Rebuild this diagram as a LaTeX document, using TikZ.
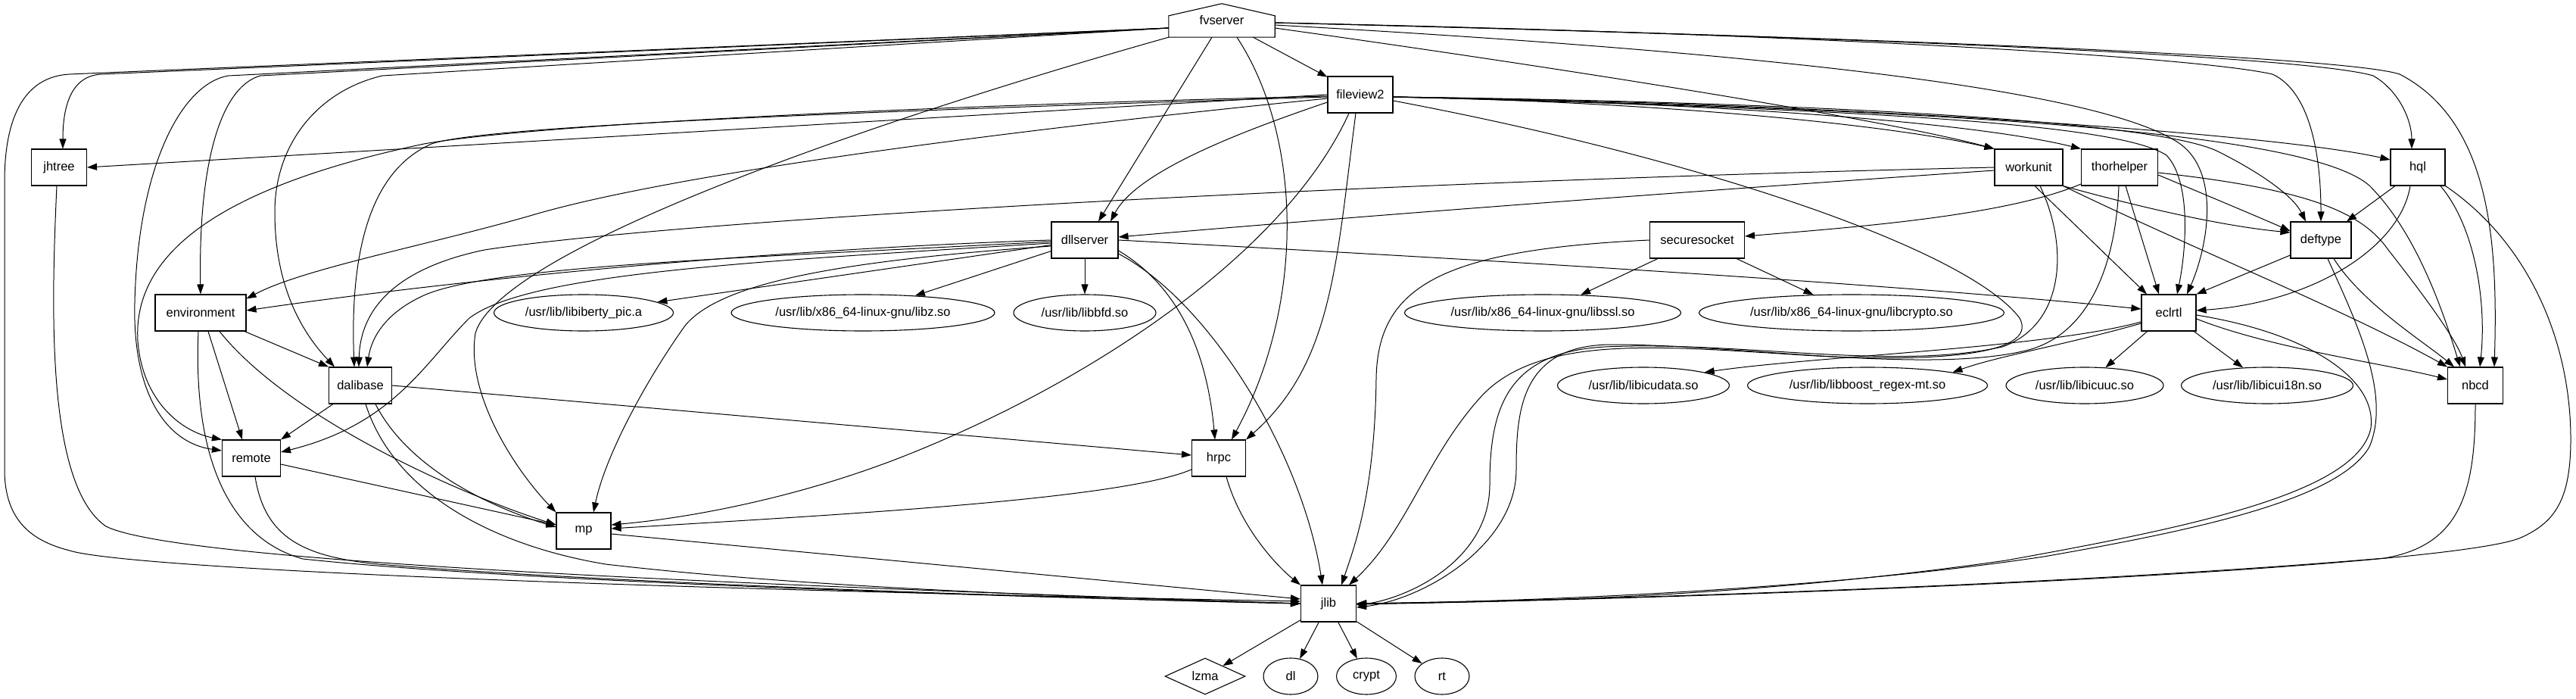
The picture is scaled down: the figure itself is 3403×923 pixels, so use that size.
\documentclass[tikz,border=0pt]{standalone}
\usepackage{fontspec}
\setmainfont{Liberation Sans}
\usetikzlibrary{arrows.meta,shapes.geometric}
\begin{document}
\begin{tikzpicture}[x=1pt,y=-1pt,
  every node/.style={font=\fontsize{16.5}{19}\selectfont, inner sep=0pt},
  bx/.style={draw, line width=1.1pt, rectangle, minimum height=48pt},
  el/.style={draw, line width=1.1pt, ellipse, minimum height=48pt},
  arr/.style={line width=1pt, -{Triangle[length=13pt,width=9pt]}},
]
\useasboundingbox (0,0) rectangle (3403,923);

% nodes
\node[minimum width=140pt, minimum height=44pt] (fvserver) at (1614,27) {fvserver};
\draw[line width=1.1pt] (fvserver.south west) -- ([yshift=-16pt]fvserver.north west) -- (fvserver.north) -- ([yshift=-16pt]fvserver.north east) -- (fvserver.south east) -- cycle;
\node[bx, minimum width=86pt] (fileview2) at (1797,125) {fileview2};
\node[bx, minimum width=73pt] (jhtree) at (78,221) {jhtree};
\node[bx, minimum width=90pt] (workunit) at (2680,221) {workunit};
\node[bx, minimum width=101pt] (thorhelper) at (2800,221) {thorhelper};
\node[bx, minimum width=72pt] (hql) at (3194,221) {hql};
\node[bx, minimum width=88pt] (dllserver) at (1433,317) {dllserver};
\node[bx, minimum width=125pt] (securesocket) at (2242,317) {securesocket};
\node[bx, minimum width=80pt] (deftype) at (3066,317) {deftype};
\node[bx, minimum width=120pt] (environment) at (265,413) {environment};
\node[el, minimum width=237pt] (libiberty) at (771,413) {/usr/lib/libiberty\_pic.a};
\node[el, minimum width=348pt] (libz) at (1140,413) {/usr/lib/x86\_64-linux-gnu/libz.so};
\node[el, minimum width=188pt] (libbfd) at (1433,413) {/usr/lib/libbfd.so};
\node[el, minimum width=365pt] (libssl) at (2038,413) {/usr/lib/x86\_64-linux-gnu/libssl.so};
\node[el, minimum width=403pt] (libcrypto) at (2446,413) {/usr/lib/x86\_64-linux-gnu/libcrypto.so};
\node[bx, minimum width=72pt] (eclrtl) at (2865,413) {eclrtl};
\node[bx, minimum width=83pt] (dalibase) at (476,509) {dalibase};
\node[el, minimum width=227pt] (libicudata) at (2171,509) {/usr/lib/libicudata.so};
\node[el, minimum width=317pt] (libboost) at (2467,509) {/usr/lib/libboost\_regex-mt.so};
\node[el, minimum width=208pt] (libicuuc) at (2754,509) {/usr/lib/libicuuc.so};
\node[el, minimum width=227pt] (libicui18n) at (2995,509) {/usr/lib/libicui18n.so};
\node[bx, minimum width=73pt] (nbcd) at (3270,509) {nbcd};
\node[bx, minimum width=77pt] (remote) at (332,605) {remote};
\node[bx, minimum width=71pt] (hrpc) at (1610,605) {hrpc};
\node[bx, minimum width=72pt] (mp) at (771,701) {mp};
\node[bx, minimum width=73pt] (jlib) at (1755,797) {jlib};
\node[draw, line width=1.1pt, diamond, minimum width=106pt, minimum height=48pt] (lzma) at (1592,893) {lzma};
\node[el, minimum width=72pt] (dl) at (1705,893) {dl};
\node[el, minimum width=79pt] (crypt) at (1805,893) {crypt};
\node[el, minimum width=72pt] (rt) at (1905,893) {rt};

% fvserver
\draw[arr] (fvserver) -- (fileview2);
\draw[arr] ([xshift=-13pt]fvserver.south) -- ([xshift=18pt]dllserver.north);
\draw[arr] (fvserver.south west) .. controls (1150,160) and (660,330) .. (628,440) .. controls (615,520) and (680,620) .. (mp.north west);
\draw[arr] ([xshift=20pt]fvserver.south) .. controls (1720,180) and (1725,400) .. ([xshift=17pt]hrpc.north);
\draw[arr] ([yshift=-10pt]fvserver.west) -- (134,98) .. controls (94,100) and (83,140) .. ([xshift=5pt]jhtree.north);
\draw[arr] ([yshift=-10pt]fvserver.west) -- (92,98) .. controls (35,101) and (6,150) .. (6,240) -- (6,620) .. controls (6,690) and (45,715) .. (92,727) .. controls (160,748) and (700,775) .. ([yshift=3pt]jlib.west);
\draw[arr] ([yshift=-10pt]fvserver.west) -- (302,100) .. controls (240,110) and (182,220) .. (178,400) .. controls (175,520) and (220,585) .. ([yshift=10pt]remote.west);
\draw[arr] ([yshift=-10pt]fvserver.west) -- (344,100) .. controls (290,115) and (262,220) .. (environment.north);
\draw[arr] ([yshift=-10pt]fvserver.west) -- (505,100) .. controls (420,120) and (363,190) .. (363,280) .. controls (363,380) and (400,440) .. ([xshift=8pt]dalibase.north west);
\draw[arr] ([yshift=-10pt]fvserver.east) .. controls (2100,95) and (2500,160) .. (workunit.north west);
\draw[arr] ([yshift=-6pt]fvserver.east) .. controls (2350,70) and (2780,120) .. (2880,190) .. controls (2935,230) and (2915,330) .. ([xshift=24pt]eclrtl.north);
\draw[arr] ([yshift=-3pt]fvserver.east) .. controls (2400,45) and (2900,75) .. (3002,98) .. controls (3050,120) and (3066,200) .. (deftype.north);
\draw[arr] ([yshift=-3pt]fvserver.east) .. controls (2500,50) and (3050,75) .. (3135,100) .. controls (3170,120) and (3186,160) .. ([xshift=-8pt]hql.north);
\draw[arr] ([yshift=-3pt]fvserver.east) .. controls (2500,50) and (3100,75) .. (3170,98) .. controls (3290,160) and (3300,320) .. ([xshift=25pt]nbcd.north);

% fileview2
\draw[arr] (fileview2.west) -- (jhtree.east);
\draw[arr] ([yshift=-2pt]fileview2.west) .. controls (1200,140) and (700,165) .. (560,190) .. controls (300,245) and (175,330) .. (182,450) .. controls (188,530) and (240,570) .. (remote.north west);
\draw[arr] ([yshift=-5pt]fileview2.west) .. controls (1400,165) and (900,225) .. (700,285) .. controls (560,325) and (400,355) .. ([yshift=-6pt]environment.north east);
\draw[arr] ([yshift=-3pt]fileview2.west) .. controls (1200,145) and (640,165) .. (570,190) .. controls (490,225) and (462,330) .. ([xshift=-8pt]dalibase.north);
\draw[arr] ([yshift=-10pt]fileview2.west) .. controls (1620,180) and (1500,230) .. ([xshift=34pt]dllserver.north);
\draw[arr] ([xshift=-15pt]fileview2.south) .. controls (1700,330) and (1450,500) .. (1200,600) .. controls (1050,660) and (900,685) .. ([yshift=8pt]mp.east);
\draw[arr] ([xshift=-6pt]fileview2.south) .. controls (1765,350) and (1760,480) .. (hrpc.north east);
\draw[arr] ([yshift=-8pt]fileview2.east) .. controls (2250,210) and (2600,330) .. (2668,420) .. controls (2695,470) and (2550,478) .. (2400,470) .. controls (2200,458) and (2040,440) .. (1960,520) .. controls (1885,600) and (1860,700) .. ([xshift=27pt]jlib.north);
\draw[arr] ([yshift=-3pt]fileview2.east) .. controls (2200,135) and (2500,165) .. (workunit.north west);
\draw[arr] ([yshift=-3pt]fileview2.east) .. controls (2250,135) and (2600,160) .. (thorhelper.north west);
\draw[arr] ([yshift=-3pt]fileview2.east) .. controls (2400,135) and (3000,175) .. ([yshift=10pt]hql.west);
\draw[arr] ([yshift=-3pt]fileview2.east) .. controls (2400,135) and (2850,160) .. (2930,200) .. controls (2990,230) and (3030,260) .. ([xshift=-20pt]deftype.north);
\draw[arr] ([yshift=-3pt]fileview2.east) .. controls (2500,145) and (2800,165) .. (2862,205) .. controls (2895,240) and (2888,330) .. ([xshift=11pt]eclrtl.north);
\draw[arr] ([yshift=-3pt]fileview2.east) .. controls (2600,145) and (3050,175) .. (3130,245) .. controls (3195,310) and (3230,420) .. ([xshift=-20pt]nbcd.north);

% dllserver
\draw[arr] (dllserver.west) .. controls (1000,330) and (600,370) .. ([yshift=3pt]environment.east);
\draw[arr] ([yshift=-2pt]dllserver.west) .. controls (1000,340) and (650,350) .. (560,390) .. controls (505,415) and (490,450) .. ([xshift=9pt]dalibase.north);
\draw[arr] ([yshift=-4pt]dllserver.west) .. controls (1000,345) and (700,360) .. (620,420) .. controls (560,480) and (520,560) .. ([yshift=8pt]remote.east);
\draw[arr] (dllserver) -- (libiberty);
\draw[arr] ([yshift=-8pt]dllserver.west) .. controls (1100,345) and (950,375) .. (905,430) .. controls (855,500) and (800,600) .. ([xshift=13pt]mp.north);
\draw[arr] (dllserver) -- (libz);
\draw[arr] (dllserver) -- (libbfd);
\draw[arr] ([yshift=-14pt]dllserver.east) .. controls (1560,380) and (1595,470) .. ([xshift=-5pt]hrpc.north);
\draw[arr] ([yshift=-18pt]dllserver.east) .. controls (1600,400) and (1720,600) .. ([xshift=-8pt]jlib.north);
\draw[arr] (dllserver.east) .. controls (2000,345) and (2500,375) .. ([yshift=5pt]eclrtl.west);

% workunit
\draw[arr] (workunit.west) .. controls (1800,240) and (900,290) .. (640,330) .. controls (520,355) and (476,410) .. ([xshift=-2pt]dalibase.north);
\draw[arr] ([yshift=-4pt]workunit.west) .. controls (2200,255) and (1800,285) .. ([yshift=4pt]dllserver.east);
\draw[arr] ([xshift=8pt]workunit.south) -- ([xshift=-29pt]eclrtl.north);
\draw[arr] (workunit.south east) .. controls (2850,280) and (2950,300) .. ([yshift=10pt]deftype.west);
\draw[arr] (workunit.south east) .. controls (2900,330) and (3100,410) .. (nbcd.north west);
\draw[arr] ([xshift=15pt]workunit.south) .. controls (2735,330) and (2725,430) .. (2645,458) .. controls (2500,490) and (2300,450) .. (2120,458) .. controls (1990,465) and (1968,540) .. (1968,640) .. controls (1968,740) and (1860,790) .. ([yshift=-2pt]jlib.east);

% thorhelper
\draw[arr] ([yshift=-22pt]thorhelper.west) .. controls (2650,285) and (2450,300) .. ([yshift=5pt]securesocket.east);
\draw[arr] ([xshift=8pt]thorhelper.south) -- ([xshift=-13pt]eclrtl.north);
\draw[arr] ([xshift=-1pt]thorhelper.south) .. controls (2795,350) and (2760,440) .. (2680,462) .. controls (2550,495) and (2300,455) .. (2130,455) .. controls (2010,455) and (2003,540) .. (2003,620) .. controls (2003,720) and (1880,792) .. ([yshift=-5pt]jlib.east);
\draw[arr] ([yshift=-10pt]thorhelper.east) .. controls (2920,260) and (2980,285) .. ([yshift=12pt]deftype.west);
\draw[arr] ([yshift=-7pt]thorhelper.east) .. controls (3050,250) and (3120,280) .. (3155,330) .. controls (3210,400) and (3245,450) .. ([xshift=-13pt]nbcd.north);

% securesocket
\draw[arr] (securesocket) -- (libssl);
\draw[arr] (securesocket) -- (libcrypto);
\draw[arr] (securesocket.west) .. controls (1900,330) and (1820,380) .. (1818,500) .. controls (1816,650) and (1790,720) .. ([xshift=17pt]jlib.north);

% hql
\draw[arr] ([xshift=-30pt]hql.south) -- ([xshift=34pt]deftype.north);
\draw[arr] ([xshift=-10pt]hql.south) .. controls (3170,330) and (3050,400) .. ([yshift=3pt]eclrtl.east);
\draw[arr] ([xshift=30pt]hql.south) .. controls (3270,300) and (3285,400) .. ([xshift=6pt]nbcd.north);
\draw[arr] (hql.south east) .. controls (3340,320) and (3396,450) .. (3396,580) .. controls (3396,660) and (3375,690) .. (3330,710) .. controls (3250,745) and (2500,785) .. ([yshift=-1pt]jlib.east);

% deftype
\draw[arr] ([yshift=-20pt]deftype.west) -- (eclrtl.north east);
\draw[arr] ([xshift=17pt]deftype.south) .. controls (3120,400) and (3200,450) .. ([xshift=-28pt]nbcd.north);
\draw[arr] ([xshift=9pt]deftype.south) .. controls (3110,420) and (3160,520) .. (3130,590) .. controls (3090,660) and (2900,700) .. (2700,735) .. controls (2400,780) and (2000,795) .. (jlib.east);

% eclrtl
\draw[arr] ([yshift=-12pt]eclrtl.west) .. controls (2700,460) and (2400,470) .. (libicudata.north east);
\draw[arr] ([yshift=-14pt]eclrtl.west) .. controls (2730,455) and (2640,470) .. (libboost.north east);
\draw[arr] (eclrtl) -- (libicuuc);
\draw[arr] (eclrtl) -- (libicui18n);
\draw[arr] ([yshift=-8pt]eclrtl.east) .. controls (3000,460) and (3150,480) .. ([yshift=8pt]nbcd.west);
\draw[arr] ([yshift=-3pt]eclrtl.east) .. controls (3050,440) and (3140,500) .. (3132,565) .. controls (3115,650) and (2900,695) .. (2650,740) .. controls (2300,790) and (2000,795) .. (jlib.east);

% environment
\draw[arr] (environment) -- (dalibase.north west);
\draw[arr] ([xshift=10pt]environment.south) -- ([xshift=-12pt]remote.north);
\draw[arr] ([xshift=25pt]environment.south) .. controls (380,550) and (600,650) .. ([yshift=8pt]mp.west);
\draw[arr] ([xshift=-3pt]environment.south) .. controls (255,600) and (300,710) .. (400,738) .. controls (700,770) and (1400,790) .. (jlib.west);

% dalibase
\draw[arr] (dalibase) -- (remote.north east);
\draw[arr] ([xshift=20pt]dalibase.south) .. controls (540,620) and (650,670) .. ([yshift=5pt]mp.west);
\draw[arr] (dalibase.east) -- ([yshift=4pt]hrpc.west);
\draw[arr] ([xshift=7pt]dalibase.south) .. controls (520,650) and (650,720) .. (800,745) .. controls (1100,780) and (1500,790) .. (jlib.west);

% remote
\draw[arr] ([yshift=-8pt]remote.east) -- ([yshift=8pt]mp.west);
\draw[arr] ([xshift=5pt]remote.south) .. controls (350,710) and (400,735) .. (500,745) .. controls (800,770) and (1400,790) .. (jlib.west);

% hrpc
\draw[arr] ([yshift=-15pt]hrpc.west) .. controls (1480,660) and (1100,680) .. ([yshift=3pt]mp.east);
\draw[arr] ([xshift=10pt]hrpc.south) .. controls (1640,700) and (1690,750) .. (jlib.north west);

% mp
\draw[arr] ([yshift=-4pt]mp.east) -- ([yshift=6pt]jlib.west);

% jhtree
\draw[arr] ([xshift=-3pt]jhtree.south) .. controls (68,400) and (60,640) .. (140,695) .. controls (230,740) and (900,770) .. (jlib.west);

% nbcd
\draw[arr] (nbcd.south) .. controls (3270,650) and (3250,720) .. (3150,737) .. controls (2700,775) and (2100,792) .. (jlib.east);

% jlib
\draw[arr] (jlib) -- (lzma);
\draw[arr] (jlib) -- (dl);
\draw[arr] (jlib) -- (crypt);
\draw[arr] (jlib) -- (rt);
\end{tikzpicture}
\end{document}
